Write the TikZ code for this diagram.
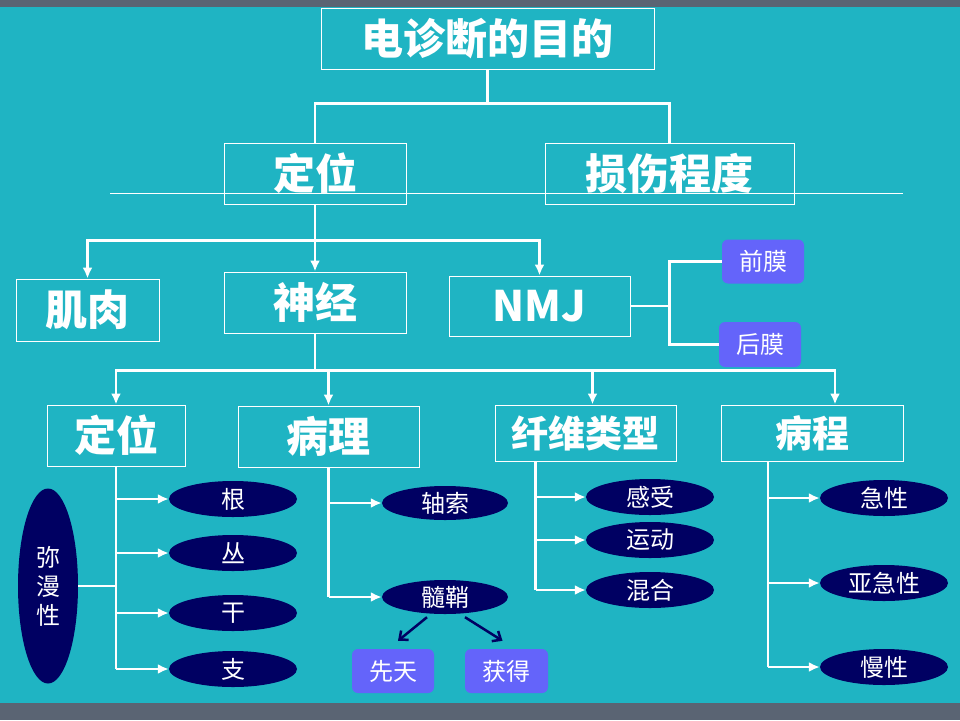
\documentclass[tikz,border=0pt]{standalone}
\usepackage{fontspec}
\setmainfont{Noto Sans CJK SC}
\usetikzlibrary{positioning,shapes.geometric,arrows.meta}
\definecolor{bgteal}{HTML}{1FB4C3}
\definecolor{bargrey}{HTML}{5A6473}
\definecolor{navyfill}{HTML}{000062}
\definecolor{violetbox}{HTML}{6464FA}
\newcommand{\bigfont}{\fontsize{42}{50}\selectfont\bfseries}
\newcommand{\midfont}{\fontsize{37}{45}\selectfont\bfseries}
\newcommand{\smallfont}{\fontsize{24}{29}\selectfont}
\tikzset{%
  box/.style={
    rectangle,
    draw=white,
    line width=1pt,
    text=white,
    minimum height=61,
    font=\bigfont
  },
  oval/.style={
    ellipse,
    fill=navyfill,
    text=white,
    inner sep=0pt,
    minimum width=128,
    minimum height=36,
    font=\smallfont
  },
  pill/.style={
    rectangle,
    rounded corners=6pt,
    fill=violetbox,
    text=white,
    minimum width=82,
    minimum height=44,
    font=\smallfont
  },
}

\begin{document}
\begin{tikzpicture}[x=1pt,y=-1pt,>={Latex[length=11pt,width=10pt]}]
        \tikzstyle{trunk}=[white,line width=2.5pt]
        \tikzstyle{arrow}=[white,line width=2.5pt,->]
        \tikzstyle{darrow}=[navyfill,line width=2.5pt,-{Straight Barb[length=7pt,width=12pt]}]

        % background and bars
        \fill[bgteal] (0,0) rectangle (960,720);
        \fill[bargrey] (0,0) rectangle (960,7);
        \fill[bargrey] (0,703) rectangle (960,720);

        % top
        \node[box,minimum width=333] (goal) at (487.5,38.5) {电诊断的目的};
        \node[box,minimum width=182] (loc) at (315,173.5) {定位};
        \node[box,minimum width=249] (degree) at (669.5,173.5) {损伤程度};
        \draw[trunk] (goal.south) -- ++(0,34) coordinate (j1);
        \draw[trunk] (loc.north) |- (j1) -| (degree.north);
        \draw[white,line width=1pt] (110,193) -- (903,193);

        % second row
        \node[box,minimum width=143,minimum height=62] (muscle) at (87.5,310) {肌肉};
        \node[box,minimum width=182] (nerve) at (315,302.5) {神经};
        \node[box,minimum width=181,minimum height=60] (nmj) at (539.5,306) {NMJ};
        \draw[trunk] (loc.south) -- ++(0,36) coordinate (j2);
        \draw[arrow] (j2) -| (muscle.north);
        \draw[arrow] (j2) -- (nerve.north);
        \draw[arrow] (j2) -| (nmj.north);

        \node[pill] (pre) at (763,261.5) {前膜};
        \node[pill,minimum height=45] (post) at (760,344.5) {后膜};
        \draw[trunk] (nmj.east) -- ++(39,0) coordinate (j3);
        \draw[trunk] (pre.west) -| (j3) |- (post.west);

        % third row
        \node[box,minimum width=138] (loc2) at (116,435.5) {定位};
        \node[box,minimum width=181] (patho) at (328.5,436.5) {病理};
        \node[box,font=\midfont,minimum width=181,minimum height=56] (fibre) at (585.5,433) {纤维类型};
        \node[box,font=\midfont,minimum width=182,minimum height=56] (course) at (812,433) {病程};
        \draw[trunk] (nerve.south) -- ++(0,37) coordinate (j4);
        \draw[arrow] (j4) -| (loc2.north);
        \draw[arrow] (j4) -| (patho.north);
        \draw[arrow] (j4) -| ([xshift=7pt]fibre.north);
        \draw[arrow] (j4) -| ([xshift=23pt]course.north);

        % location
        \node[oval] (root) at (233,499) {根};
        \node[oval] (plexus) at (233,553) {丛};
        \node[oval] (stem) at (233,613) {干};
        \node[oval] (branch) at (233,669) {支};
        \node[oval,minimum width=60,minimum height=195,align=center] (diffuse) at (48,586) {弥\\漫\\性};
        \draw[trunk] (loc2.south) -- (loc2.south |- branch.west);
        \foreach \n in {root,plexus,stem,branch}
          \draw[arrow] (loc2.south |- \n.west) -- (\n.west);
        \draw[trunk] (diffuse.east) -- (diffuse.east -| loc2.south);

        % pathology
        \node[oval,minimum width=126,minimum height=34] (axon) at (445,503) {轴索};
        \node[oval,minimum width=126,minimum height=34] (myelin) at (445,597) {髓鞘};
        \draw[trunk] (patho.south) -- (patho.south |- myelin.west);
        \draw[arrow] (patho.south |- axon.west) -- (axon.west);
        \draw[arrow] (patho.south |- myelin.west) -- (myelin.west);
        \node[pill] (congen) at (393,671) {先天};
        \node[pill,minimum width=83] (acquired) at (506.5,671) {获得};
        \draw[darrow] ([xshift=-18pt,yshift=-3pt]myelin.south) -- ([xshift=5pt,yshift=8pt]congen.north);
        \draw[darrow] ([xshift=20pt,yshift=-3pt]myelin.south) -- ([xshift=-4pt,yshift=8pt]acquired.north);

        % fibre type
        \node[oval] (sensory) at (650,497) {感受};
        \node[oval] (motor) at (650,540) {运动};
        \node[oval] (mixed) at (650,590) {混合};
        \path ([xshift=-50pt]fibre.south) coordinate (j5);
        \draw[trunk] (j5) -- (j5 |- mixed.west);
        \foreach \n in {sensory,motor,mixed}
          \draw[arrow] (j5 |- \n.west) -- (\n.west);

        % course
        \node[oval] (acute) at (884,498) {急性};
        \node[oval] (subacute) at (884,583) {亚急性};
        \node[oval] (chronic) at (884,667) {慢性};
        \path ([xshift=-44pt]course.south) coordinate (j6);
        \draw[trunk] (j6) -- (j6 |- chronic.west);
        \foreach \n in {acute,subacute,chronic}
          \draw[arrow] (j6 |- \n.west) -- (\n.west);
    \end{tikzpicture}
\end{document}
